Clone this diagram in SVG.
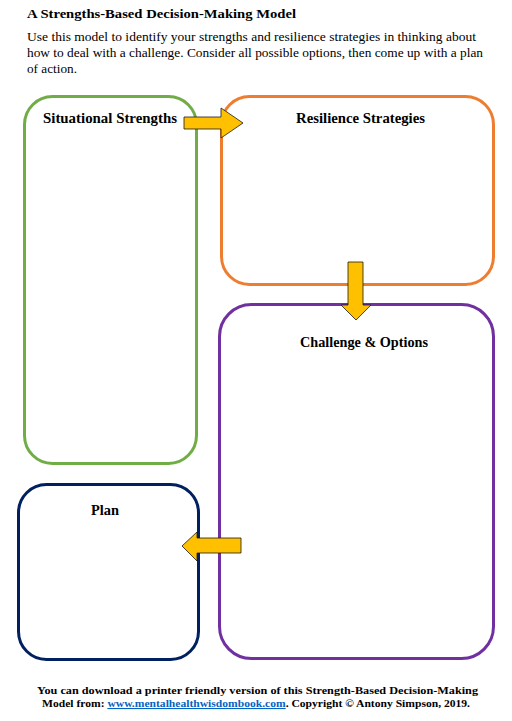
<svg xmlns="http://www.w3.org/2000/svg" width="512" height="721" viewBox="0 0 512 721">
<style>
text{font-family:"Liberation Serif","DejaVu Serif",serif;fill:#000}
.t{font-size:13px;font-weight:bold}
.b{font-size:13.5px}
.l{font-size:14.5px;font-weight:bold}
.f{font-size:11px;font-weight:bold}
.box{fill:none;stroke-width:3}
.arr{fill:#FFC000;stroke:#1a1a1a;stroke-width:0.8;stroke-linejoin:miter}
</style>
<rect width="512" height="721" fill="#fff"/>
<text class="t" x="27" y="18" textLength="269" lengthAdjust="spacingAndGlyphs">A Strengths-Based Decision-Making Model</text>
<text class="b" x="27" y="41" textLength="449" lengthAdjust="spacingAndGlyphs">Use this model to identify your strengths and resilience strategies in thinking about</text>
<text class="b" x="27" y="57" textLength="456" lengthAdjust="spacingAndGlyphs">how to deal with a challenge. Consider all possible options, then come up with a plan</text>
<text class="b" x="27" y="73" textLength="50" lengthAdjust="spacingAndGlyphs">of action.</text>
<g id="situational-strengths">
<rect class="box" x="24.5" y="96.5" width="172" height="367" rx="28" stroke="#70AD47"/>
<text class="l" x="43" y="123" textLength="134" lengthAdjust="spacingAndGlyphs">Situational Strengths</text>
</g>
<g id="resilience-strategies">
<rect class="box" x="221.5" y="96.5" width="272" height="188" rx="28" stroke="#ED7D31"/>
<text class="l" x="296" y="123" textLength="129" lengthAdjust="spacingAndGlyphs">Resilience Strategies</text>
</g>
<g id="challenge-options">
<rect class="box" x="219.5" y="304.5" width="274" height="354" rx="32" stroke="#7030A0"/>
<text class="l" x="300" y="347" textLength="128" lengthAdjust="spacingAndGlyphs">Challenge &amp; Options</text>
</g>
<g id="plan">
<rect class="box" x="18.5" y="484.5" width="180" height="175" rx="28" stroke="#002060"/>
<text class="l" x="91" y="515" textLength="28" lengthAdjust="spacingAndGlyphs">Plan</text>
</g>
<g id="connectors">
<path class="arr" d="M184,117 L221,117 L221,108 L243,123 L221,138 L221,129 L184,129 Z"/>
<path class="arr" d="M348,262 L363,262 L363,305 L371,305 L356,320 L341,305 L348,305 Z"/>
<path class="arr" d="M241,538 L197,538 L197,532 L182,546 L197,561 L197,553 L241,553 Z"/>
</g>
<text class="f" x="37" y="694" textLength="441" lengthAdjust="spacingAndGlyphs">You can download a printer friendly version of this Strength-Based Decision-Making</text>
<text class="f" x="42" y="707" textLength="428" lengthAdjust="spacingAndGlyphs">Model from: <tspan fill="#0563C1" text-decoration="underline">www.mentalhealthwisdombook.com</tspan>. Copyright © Antony Simpson, 2019.</text>
</svg>
